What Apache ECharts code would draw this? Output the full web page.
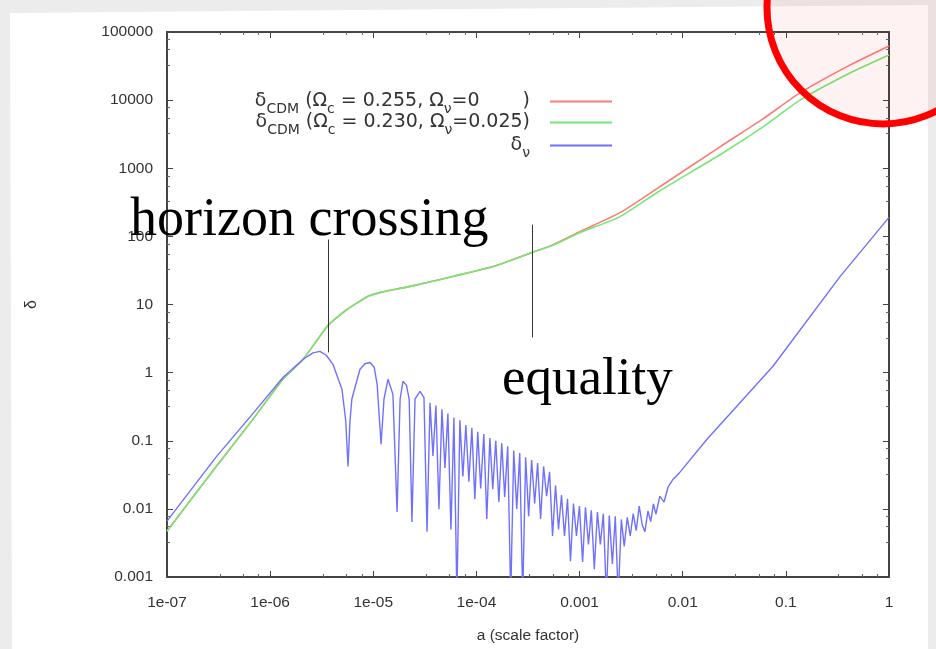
<!DOCTYPE html>
<html><head><meta charset="utf-8">
<script src="https://cdn.jsdelivr.net/npm/echarts@6/dist/echarts.min.js"></script>
<style>html,body{margin:0;padding:0;background:#ececec;}#c{width:936px;height:649px;}</style>
</head><body><div id="c"></div>
<script>
// ---- data ----
const xTickLabels = ['1e-07','1e-06','1e-05','1e-04','0.001','0.01','0.1','1'];
const yTickLabels = ['0.001','0.01','0.1','1','10','100','1000','10000','100000'];
const seriesNames = ['δCDM (Ωc = 0.255, Ων=0)', 'δCDM (Ωc = 0.230, Ων=0.025)', 'δν'];

const cdmA   = [1e-7, 3e-7, 6.8e-7, 1.33e-6, 2.08e-6, 3.56e-6, 4.2e-6, 5.56e-6, 7.43e-6, 9e-6, 1.2e-5, 2e-5, 3.32e-5, 6e-5, 1.45e-4, 3.46e-4, 5.5e-4, 1e-3, 2.47e-3, 6e-3, 0.023, 0.06, 0.137, 0.4, 1];
const redD   = [0.0047, 0.042, 0.206, 0.80, 1.56, 4.76, 6.0, 8.45, 11.2, 13.3, 15.2, 17.7, 21, 26, 36, 58, 75, 117, 223, 535, 2065, 5310, 12760, 31600, 62400];
const greenD = [0.0047, 0.042, 0.206, 0.80, 1.56, 4.76, 6.0, 8.45, 11.2, 13.3, 15.2, 17.7, 21, 26, 36, 58, 74, 113, 195, 468, 1578, 4055, 10000, 24250, 46000];

const nuA = [1e-7, 3e-7, 6.8e-7, 1.33e-6, 2.08e-6, 2.6e-6, 3.04e-6, 3.5e-6, 4.07e-6, 4.97e-6, 5.4e-6, 5.69e-6, 5.95e-6, 6.2e-6, 7.43e-6, 8.3e-6, 9.29e-6, 1.02e-5, 1.09e-5, 1.19e-5, 1.27e-5, 1.39e-5, 1.55e-5, 1.70e-5, 1.82e-5, 1.94e-5, 2.1e-5, 2.23e-5, 2.37e-5, 2.54e-5, 2.84e-5, 3.1e-5,
  3.32e-5, 3.55e-5, 3.79e-5, 4.05e-5, 4.33e-5, 4.63e-5, 4.95e-5, 5.29e-5, 5.66e-5, 6.05e-5, 6.47e-5, 6.91e-5, 7.39e-5, 7.90e-5, 8.45e-5, 9.03e-5, 9.65e-5,
  1.03e-4, 1.10e-4, 1.18e-4, 1.26e-4, 1.35e-4, 1.44e-4, 1.54e-4, 1.65e-4, 1.76e-4, 1.88e-4, 2.01e-4, 2.15e-4, 2.30e-4, 2.46e-4, 2.63e-4, 2.81e-4, 3.00e-4, 3.21e-4, 3.43e-4, 3.67e-4, 3.92e-4, 4.19e-4, 4.48e-4, 4.79e-4, 5.12e-4, 5.47e-4, 5.85e-4, 6.25e-4, 6.68e-4, 7.14e-4, 7.64e-4, 8.16e-4, 8.73e-4, 9.33e-4, 9.97e-4,
  1.07e-3, 1.14e-3, 1.22e-3, 1.30e-3, 1.39e-3, 1.49e-3, 1.59e-3, 1.70e-3, 1.82e-3, 1.94e-3, 2.08e-3, 2.22e-3, 2.37e-3, 2.54e-3, 2.71e-3, 2.90e-3, 3.10e-3, 3.31e-3, 3.54e-3, 3.79e-3, 4.05e-3, 4.3e-3, 4.6e-3, 4.9e-3, 5.2e-3, 5.5e-3, 6.0e-3, 6.6e-3, 7.2e-3, 8.05e-3, 9.4e-3,
  0.0172, 0.075, 0.335, 1];
const nuD = [0.0066, 0.058, 0.25, 0.85, 1.56, 1.95, 2.05, 1.8, 1.32, 0.57, 0.2, 0.042, 0.2, 0.41, 1.12, 1.35, 1.41, 1.2, 0.67, 0.089, 0.41, 0.80, 0.48, 0.009, 0.41, 0.745, 0.65, 0.4, 0.0064, 0.41, 0.53, 0.43,
  0.0046, 0.36, 0.06, 0.33, 0.0099, 0.29, 0.04, 0.25, 0.005, 0.22, 0.0005, 0.2, 0.03, 0.17, 0.025, 0.155, 0.0139,
  0.135, 0.02, 0.125, 0.0071, 0.11, 0.0195, 0.10, 0.0126, 0.092, 0.015, 0.083, 0.0005, 0.072, 0.01, 0.066, 0.0005, 0.057, 0.0078, 0.052, 0.012, 0.047, 0.0071, 0.042, 0.0154, 0.035, 0.004, 0.022, 0.005, 0.016, 0.004, 0.014, 0.0017, 0.012, 0.004, 0.011,
  0.00166, 0.0105, 0.003, 0.0095, 0.0013, 0.009, 0.003, 0.0085, 0.0005, 0.008, 0.00155, 0.0078, 0.0005, 0.007, 0.0028, 0.0075, 0.004, 0.0085, 0.0048, 0.011, 0.0058, 0.0046, 0.0093, 0.0065, 0.0118, 0.0084, 0.0154, 0.0126, 0.0208, 0.027, 0.0346,
  0.105, 1.24, 25.7, 190];

// annotation markers (data coordinates)
const annotA      = [3.64e-6, 3.46e-4];
const annotTop    = [89.8, 148.6];
const annotBottom = [1.98, 3.29];

// ---- chart ----
const FONT = 'Liberation Sans';
const LFONT = 'DejaVu Sans';
const colors = ['#ff7a7a', '#74e874', '#7070ff'];
const pair = (xs, ys) => xs.map((x, i) => [x, ys[i]]);
const expLabel = (arr, base) => v => { const k = Math.round(Math.log10(v)) - base; return arr[k] !== undefined ? arr[k] : ''; };

const rich = {
  t:  {fontSize: 19, fontFamily: LFONT, color: '#333', verticalAlign: 'bottom', padding: [5,0,5,0]},
  s:  {fontSize: 14, fontFamily: LFONT, color: '#333', verticalAlign: 'bottom'},
  se: {fontSize: 14, fontFamily: LFONT, color: '#333', verticalAlign: 'bottom', padding: [0,15,0,0]},
  pe: {fontSize: 19, fontFamily: LFONT, color: '#333', verticalAlign: 'bottom', padding: [5,15,5,43]},
  te: {fontSize: 19, fontFamily: LFONT, color: '#333', verticalAlign: 'bottom', padding: [5,15,5,0]}
};
const legendRich = [
  '{t|δ}{s|CDM}{t| (Ω}{s|c}{t| = 0.255, Ω}{s|ν}{t|=0}{pe|)}',
  '{t|δ}{s|CDM}{t| (Ω}{s|c}{t| = 0.230, Ω}{s|ν}{t|=0.025}{te|)}',
  '{t|δ}{se|ν}'
];
const legendTops = [92, 113, 136];

const axisCommon = {
  type: 'log', logBase: 10,
  axisLine: {show: true, lineStyle: {color: '#444', width: 2}},
  axisTick: {show: true, inside: true, length: 6, lineStyle: {color: '#444'}},
  minorTick: {show: true, splitNumber: 4, length: 3, lineStyle: {color: '#666'}},
  splitLine: {show: false},
};

const option = {
  animation: false,
  grid: {left: 167, right: 47, top: 32, bottom: 71, containLabel: false},
  legend: seriesNames.map((n, i) => ({
    data: [n], orient: 'horizontal', align: 'right', right: 324, top: legendTops[i],
    icon: 'rect', itemWidth: 62, itemHeight: 2, padding: 0, itemGap: 0,
    selectedMode: false,
    formatter: () => legendRich[i],
    textStyle: {rich: rich}
  })),
  xAxis: [
    Object.assign({}, axisCommon, {
      position: 'bottom', min: 1e-7, max: 1, interval: 1, splitNumber: 7,
      name: 'a (scale factor)', nameLocation: 'middle', nameGap: 51,
      nameTextStyle: {fontFamily: FONT, fontSize: 15.5, color: '#333'},
      axisLabel: {fontFamily: FONT, fontSize: 15.5, color: '#333', margin: 18, formatter: expLabel(xTickLabels, -7)}
    }),
    Object.assign({}, axisCommon, {
      position: 'top', min: 1e-7, max: 1, interval: 1, splitNumber: 7, axisLabel: {show: false}
    })
  ],
  yAxis: [
    Object.assign({}, axisCommon, {
      position: 'left', min: 0.001, max: 100000, interval: 1, splitNumber: 8,
      name: 'δ', nameLocation: 'middle', nameGap: 127, nameRotate: 90,
      nameTextStyle: {fontFamily: FONT, fontSize: 16, color: '#333'},
      axisLabel: {fontFamily: FONT, fontSize: 15.5, color: '#333', margin: 14, formatter: expLabel(yTickLabels, -3)}
    }),
    Object.assign({}, axisCommon, {
      position: 'right', min: 0.001, max: 100000, interval: 1, splitNumber: 8, axisLabel: {show: false}
    })
  ],
  series: [
    {name: seriesNames[0], type: 'line', data: pair(cdmA, redD), showSymbol: false, symbol: 'none', clip: true, smooth: 0.2,
     color: colors[0], lineStyle: {color: colors[0], width: 1.6},
     markLine: {silent: true, symbol: 'none', label: {show: false}, lineStyle: {color: '#333', width: 1, type: 'solid'},
       data: annotA.map((a, i) => [{coord: [a, annotTop[i]]}, {coord: [a, annotBottom[i]]}])}},
    {name: seriesNames[1], type: 'line', data: pair(cdmA, greenD), showSymbol: false, symbol: 'none', clip: true, smooth: 0.2,
     color: colors[1], lineStyle: {color: colors[1], width: 1.6}},
    {name: seriesNames[2], type: 'line', data: pair(nuA, nuD), showSymbol: false, symbol: 'none', clip: true,
     color: colors[2], lineStyle: {color: colors[2], width: 1.4}}
  ],
  graphic: [
    {type: 'polygon', z: -100, silent: true, shape: {points: [[10,13],[928,5],[928,649],[12,649]]}, style: {fill: '#ffffff'}},
    {type: 'text', z: 100, silent: true, style: {x: 130, y: 221, text: 'horizon crossing', font: '54px "Liberation Serif"', fill: '#000', verticalAlign: 'middle'}},
    {type: 'text', z: 100, silent: true, style: {x: 502, y: 380, text: 'equality', font: '53px "Liberation Serif"', fill: '#000', verticalAlign: 'middle'}},
    {type: 'circle', z: 100, silent: true, shape: {cx: 883, cy: 8, r: 116}, style: {fill: 'rgba(255,0,0,0.05)', stroke: '#ff0000', lineWidth: 7}}
  ]
};
const chart = echarts.init(document.getElementById('c'), null, {renderer: 'canvas'});
chart.setOption(option);
</script>
</body></html>
